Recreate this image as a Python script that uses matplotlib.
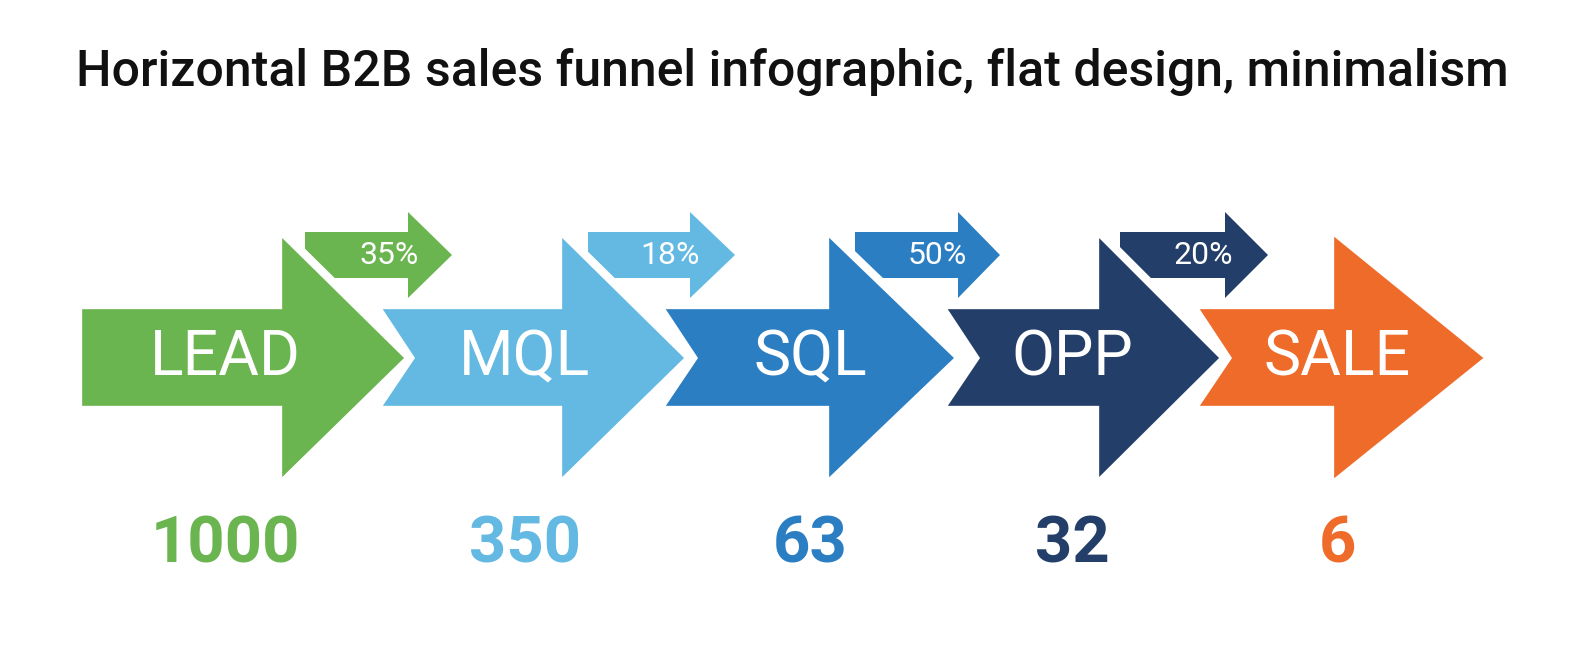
import matplotlib
matplotlib.use("Agg")
import matplotlib.pyplot as plt
from matplotlib.patches import Polygon

plt.rcParams["font.family"] = ["Roboto", "DejaVu Sans"]

# data
stages = ["LEAD", "MQL", "SQL", "OPP", "SALE"]
counts = [1000, 350, 63, 32, 6]
rates = ["35%", "18%", "50%", "20%"]
colors = ["#6ab550", "#63b9e2", "#2b7ec2", "#233f69", "#ef6b2a"]

# layout (pixel space)
W, H = 1584, 672
big_left = [78, 375, 658, 940, 1192]
big_head = [278, 558, 825, 1095, 1330]
big_tip = [410, 690, 960, 1225, 1490]
label_x = [225, 525, 810, 1072, 1337]
notch = 35
body_top, body_bot, head_top, head_bot, mid = 305, 410, 228, 487, 358

small_left = [305, 588, 855, 1120]
small_head = [408, 690, 958, 1225]
small_tip = [452, 735, 1000, 1268]
rate_x = [389, 670, 937, 1203]
s_top, s_bot, sh_top, sh_bot, s_mid = 232, 278, 212, 298, 255

fig = plt.figure(figsize=(W / 100, H / 100), dpi=100)
ax = fig.add_axes([0, 0, 1, 1])
ax.set_xlim(0, W)
ax.set_ylim(H, 0)
ax.axis("off")

ax.text(W / 2, 72, "Horizontal B2B sales funnel infographic, flat design, minimalism",
        ha="center", va="center", fontsize=36, fontweight="medium", color="#111111")

for i, (name, n, c) in enumerate(zip(stages, counts, colors)):
    l, hx, tx = big_left[i], big_head[i], big_tip[i]
    pts = [(l, body_top), (hx, body_top), (hx, head_top), (tx, mid),
           (hx, head_bot), (hx, body_bot), (l, body_bot)]
    if i > 0:
        pts.append((l + notch, mid))
    ax.add_patch(Polygon(pts, closed=True, facecolor=c, edgecolor="white",
                         linewidth=6, joinstyle="miter", zorder=2 + i))
    ax.text(label_x[i], mid, name, ha="center", va="center", fontsize=45,
            color="white", zorder=10)
    ax.text(label_x[i], 545, str(n), ha="center", va="center", fontsize=47,
            fontweight="bold", color=c)

for i, r in enumerate(rates):
    l, hx, tx = small_left[i], small_head[i], small_tip[i]
    pts = [(l, s_top), (hx, s_top), (hx, sh_top), (tx, s_mid),
           (hx, sh_bot), (hx, s_bot), (l, s_bot)]
    ax.add_patch(Polygon(pts, closed=True, facecolor=colors[i], edgecolor="none", zorder=1))
    ax.text(rate_x[i], s_mid, r, ha="center", va="center",
            fontsize=23, color="white", zorder=10)

fig.savefig("out.png", dpi=100, facecolor="white")
